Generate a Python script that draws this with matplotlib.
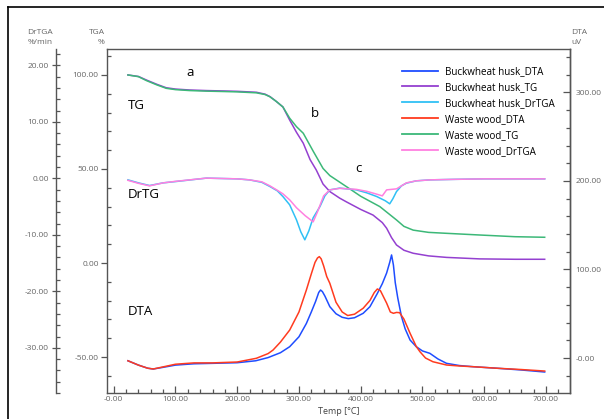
import matplotlib
matplotlib.use("Agg")
import matplotlib.pyplot as plt
from matplotlib.lines import Line2D
from matplotlib.ticker import FixedLocator, FixedFormatter, MultipleLocator

# --- data (Temp in degC) ---
# TG (%)
tg_bw_temp = [23, 40, 53, 70, 85, 100, 123, 150, 177, 200, 231, 245, 253, 263, 274, 285, 296, 307, 318,
              328, 339, 350, 366, 377, 400, 420, 435, 442, 450, 458, 470, 485, 510, 539, 593, 650, 698]
tg_bw_val = [100, 99.2, 97.3, 95, 93.2, 92.5, 92, 91.7, 91.5, 91.3, 90.8, 89.8, 88.5, 86, 83, 76, 69.5, 63.7, 55,
             49.5, 42, 38, 34.5, 32.5, 28.5, 25.5, 21.5, 18.5, 13.5, 9.6, 6.8, 5.2, 3.8, 3, 2.2, 2.0, 2.0]
tg_ww_temp = [23, 40, 53, 70, 85, 100, 123, 150, 177, 200, 231, 245, 253, 263, 274, 285, 296, 307, 323,
              339, 350, 366, 377, 400, 431, 458, 470, 485, 510, 539, 593, 650, 698]
tg_ww_val = [100, 99.1, 97.0, 94.7, 92.9, 92.2, 91.7, 91.4, 91.2, 91.0, 90.5, 89.6, 88.4, 86, 83, 77, 72.5, 69, 59.5,
             50.3, 46.5, 43, 40.6, 35.5, 30, 22.9, 19.5, 17.5, 16.3, 15.8, 14.9, 14.0, 13.7]

# DrTGA (%/min)
dr_bw_temp = [23, 40, 58, 80, 100, 150, 200, 220, 240, 253, 265, 274, 285, 296, 303, 309.5, 316, 323, 334, 342,
              350, 366, 393, 410, 426, 440, 447, 452, 458, 466, 474, 490, 512, 550, 600, 650, 698]
dr_bw_val = [-0.27, -0.8, -1.27, -0.8, -0.57, 0.04, -0.09, -0.27, -0.71, -1.45, -2.21, -3.22, -4.69, -7.35, -9.47,
             -10.88, -9.3, -6.99, -4.99, -3.1, -2.04, -1.73, -2.04, -2.57, -3.22, -3.98, -4.51, -3.63, -2.34, -1.33,
             -0.85, -0.44, -0.27, -0.18, -0.09, -0.09, -0.09]
dr_ww_temp = [23, 40, 58, 80, 100, 150, 200, 220, 240, 253, 265, 274, 285, 296, 310, 323, 330, 340, 350, 366,
              393, 410, 426, 435, 442, 450, 458, 466, 474, 490, 512, 550, 600, 650, 698]
dr_ww_val = [-0.35, -0.88, -1.33, -0.8, -0.53, 0.04, -0.09, -0.27, -0.62, -1.33, -2.12, -2.74, -3.81, -5.2, -6.6,
             -7.7, -5.93, -3.1, -2.04, -1.77, -1.95, -2.3, -2.8, -3.1, -2.04, -1.95, -1.86, -1.33, -0.8, -0.44,
             -0.27, -0.18, -0.09, -0.09, -0.09]

# DTA (uV)
dta_bw_temp = [23, 40, 55, 64, 80, 100, 130, 160, 200, 230, 250, 270, 285, 300, 312, 320, 327, 332, 335, 338, 342,
               350, 360, 370, 380, 390, 404, 415, 427, 435, 442, 447, 450, 453, 456, 460, 466, 472, 480, 490, 500,
               512, 525, 539, 560, 582, 620, 660, 698]
dta_bw_val = [-3.1, -8, -11.5, -12.4, -10.5, -8, -6.5, -6, -5.3, -3.1, 0.5, 6, 12.8, 24, 39, 52, 64, 74, 76.8, 75, 70,
              58, 50, 46, 44.5, 45.5, 50.5, 58, 73, 84, 96, 108, 116.4, 105, 85, 68, 47, 33, 20.3, 12.8, 8,
              5.3, -1, -6, -8.5, -9.8, -11.5, -13.5, -15.8]
dta_ww_temp = [23, 40, 55, 64, 80, 100, 130, 160, 200, 231, 250, 258, 270, 285, 300, 312, 320, 326, 330, 333, 336,
               340, 345, 350, 360, 370, 379, 390, 404, 415, 422, 427, 432, 437, 442, 448, 453, 458, 463, 470, 480,
               490, 496, 505, 517, 539, 560, 582, 620, 660, 698]
dta_ww_val = [-3.1, -8, -11.5, -12.4, -10, -7, -5.5, -5.5, -4.5, -0.3, 5, 9, 18, 31.6, 52, 76.8, 95, 108, 113, 114.5,
              112, 104, 92, 84.4, 63, 52, 48, 49.5, 56.2, 65, 74, 78, 76, 69, 62, 52, 50.5, 51.5, 51.2, 44, 27.9,
              13, 7.1, 0, -4.2, -7.9, -9, -9.8, -11.5, -13, -14.7]

x_ticks = [0, 100, 200, 300, 400, 500, 600, 700]
x_tick_labels = ['-0.00', '100.00', '200.00', '300.00', '400.00', '500.00', '600.00', '700.00']
tga_ticks = [100, 50, 0, -50]
tga_tick_labels = ['100.00', '50.00', '0.00', '-50.00']
dr_ticks = [20, 10, 0, -10, -20, -30]
dr_tick_labels = ['20.00', '10.00', '0.00', '-10.00', '-20.00', '-30.00']
dta_ticks = [300, 200, 100, 0]
dta_tick_labels = ['300.00', '200.00', '100.00', '-0.00']

# --- styling ---
plt.rcParams['font.family'] = ['Open Sans', 'DejaVu Sans']
W, H = 604, 419
tick_col = '#666666'
spine_col = '#555555'
c_bw_dta, c_bw_tg, c_bw_dr = '#1f4dff', '#9440d0', '#30c0f5'
c_ww_dta, c_ww_tg, c_ww_dr = '#ff3b1f', '#3cb878', '#ff80e0'
lw = 1.1

fig = plt.figure(figsize=(W / 100, H / 100), dpi=100)
ax = fig.add_axes([107 / W, 1 - 393 / H, (570 - 107) / W, (393 - 49) / H])
ax_dr = ax.twinx()
ax_dta = ax.twinx()

# TG on main axis
ax.plot(tg_bw_temp, tg_bw_val, color=c_bw_tg, lw=lw, label='Buckwheat husk_TG')
ax.plot(tg_ww_temp, tg_ww_val, color=c_ww_tg, lw=lw, label='Waste wood_TG')
# DrTGA
ax_dr.plot(dr_bw_temp, dr_bw_val, color=c_bw_dr, lw=lw, label='Buckwheat husk_DrTGA')
ax_dr.plot(dr_ww_temp, dr_ww_val, color=c_ww_dr, lw=lw, label='Waste wood_DrTGA')
# DTA
ax_dta.plot(dta_bw_temp, dta_bw_val, color=c_bw_dta, lw=lw, label='Buckwheat husk_DTA')
ax_dta.plot(dta_ww_temp, dta_ww_val, color=c_ww_dta, lw=lw, label='Waste wood_DTA')

ax.set_xlim(-10.9, 739)
ax.set_ylim(-69.1, 113.8)
ax_dr.set_ylim(-38.0, 22.9)
ax_dta.set_ylim(-39.5, 349)

# x axis
ax.xaxis.set_major_locator(FixedLocator(x_ticks))
ax.xaxis.set_major_formatter(FixedFormatter(x_tick_labels))
ax.xaxis.set_minor_locator(MultipleLocator(20))
ax.tick_params(axis='x', which='major', direction='in', length=5, width=0.9, color=spine_col,
               labelsize=6, labelcolor=tick_col, pad=2)
ax.tick_params(axis='x', which='minor', direction='in', length=3, width=0.9, color=spine_col)
ax.set_xlabel('Temp [°C]', fontsize=6.5, color='#444444', labelpad=3)

# TGA axis
ax.yaxis.set_major_locator(FixedLocator(tga_ticks))
ax.yaxis.set_major_formatter(FixedFormatter(tga_tick_labels))
ax.yaxis.set_minor_locator(MultipleLocator(10))
ax.tick_params(axis='y', which='major', direction='out', length=4, width=0.9, color=spine_col,
               labelsize=6, labelcolor=tick_col, pad=2)
ax.tick_params(axis='y', which='minor', direction='in', length=3, width=0.9, color=spine_col)

# DrTGA axis, pushed out to the left
ax_dr.spines['left'].set_visible(True)
ax_dr.spines['left'].set_position(('outward', 37))
ax_dr.yaxis.set_ticks_position('left')
ax_dr.yaxis.set_label_position('left')
ax_dr.spines['right'].set_visible(False)
ax_dr.spines['top'].set_visible(False)
ax_dr.spines['bottom'].set_visible(False)
ax_dr.yaxis.set_major_locator(FixedLocator(dr_ticks))
ax_dr.yaxis.set_major_formatter(FixedFormatter(dr_tick_labels))
ax_dr.yaxis.set_minor_locator(MultipleLocator(2))
ax_dr.tick_params(axis='y', which='major', direction='inout', length=6, width=0.9, color=spine_col,
                  labelsize=6, labelcolor=tick_col, pad=2)
ax_dr.tick_params(axis='y', which='minor', direction='in', length=3, width=0.9, color=spine_col)

# DTA axis on the right
ax_dta.spines['top'].set_visible(False)
ax_dta.spines['left'].set_visible(False)
ax_dta.spines['bottom'].set_visible(False)
ax_dta.yaxis.set_major_locator(FixedLocator(dta_ticks))
ax_dta.yaxis.set_major_formatter(FixedFormatter(dta_tick_labels))
ax_dta.yaxis.set_minor_locator(MultipleLocator(20))
ax_dta.tick_params(axis='y', which='major', direction='in', length=5, width=0.9, color=spine_col,
                   labelsize=6, labelcolor=tick_col, pad=4)
ax_dta.tick_params(axis='y', which='minor', direction='in', length=3, width=0.9, color=spine_col)

for a in (ax, ax_dr, ax_dta):
    for s in a.spines.values():
        s.set_color(spine_col)
        s.set_linewidth(1.0)

# axis titles
fig.text(53 / W, 1 - 33 / H, 'DrTGA', fontsize=6, color=tick_col, ha='right', va='center')
fig.text(53 / W, 1 - 43 / H, '%/min', fontsize=6, color=tick_col, ha='right', va='center')
fig.text(105 / W, 1 - 33 / H, 'TGA', fontsize=6, color=tick_col, ha='right', va='center')
fig.text(105 / W, 1 - 43 / H, '%', fontsize=6, color=tick_col, ha='right', va='center')
fig.text(571 / W, 1 - 33 / H, 'DTA', fontsize=6, color=tick_col, ha='left', va='center')
fig.text(571 / W, 1 - 43 / H, 'uV', fontsize=6, color=tick_col, ha='left', va='center')

# curve annotations (main TG axis coordinates)
ax.text(23, 83.5, 'TG', fontsize=9.5, ha='left', va='center')
ax.text(23, 36.2, 'DrTG', fontsize=9.5, ha='left', va='center')
ax.text(23, -25.9, 'DTA', fontsize=9.5, ha='left', va='center')
ax.text(123, 101.2, 'a', fontsize=9.5, ha='center', va='center')
ax.text(326, 79.3, 'b', fontsize=9.5, ha='center', va='center')
ax.text(397, 50, 'c', fontsize=9.5, ha='center', va='center')

# legend
handles = [Line2D([], [], color=c_bw_dta, lw=1.3), Line2D([], [], color=c_bw_tg, lw=1.3),
           Line2D([], [], color=c_bw_dr, lw=1.3), Line2D([], [], color=c_ww_dta, lw=1.3),
           Line2D([], [], color=c_ww_tg, lw=1.3), Line2D([], [], color=c_ww_dr, lw=1.3)]
labels = ['Buckwheat husk_DTA', 'Buckwheat husk_TG', 'Buckwheat husk_DrTGA',
          'Waste wood_DTA', 'Waste wood_TG', 'Waste wood_DrTGA']
fig.legend(handles, labels, loc='upper left', bbox_to_anchor=(402 / W, 1 - 66 / H),
           frameon=False, fontsize=7.1, borderpad=0, handlelength=3.6, handletextpad=0.75,
           labelspacing=0.5, borderaxespad=0)

# outer frame (left and top edges)
fig.add_artist(Line2D([8 / W, 8 / W], [0, 1 - 7 / H], transform=fig.transFigure, color='black', lw=1.2))
fig.add_artist(Line2D([8 / W, 1], [1 - 7 / H, 1 - 7 / H], transform=fig.transFigure, color='black', lw=1.2))

fig.savefig('out.png', dpi=100)
